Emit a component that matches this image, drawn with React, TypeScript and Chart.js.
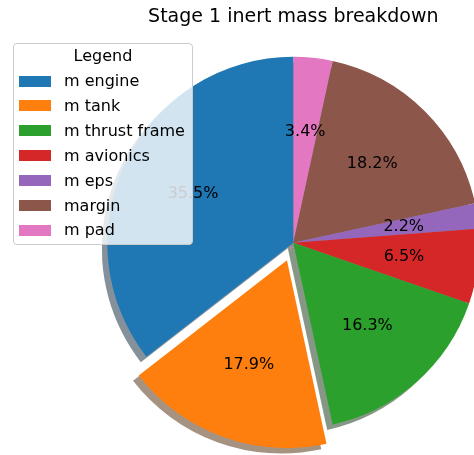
import React, { useEffect, useRef } from "react";
import { Chart, registerables } from "chart.js";

Chart.register(...registerables);

// ---- data ----
const categories = ["m engine", "m tank", "m thrust frame", "m avionics", "m eps", "margin", "m pad"];
const shares = [35.5, 17.9, 16.3, 6.5, 2.2, 18.2, 3.4];
const sliceColors = ["#1f77b4", "#ff7f0e", "#2ca02c", "#d62728", "#9467bd", "#8c564b", "#e377c2"];
const explode = [0, 0.1, 0, 0, 0, 0, 0];
const chartTitle = "Stage 1 inert mass breakdown";
const legendTitle = "Legend";

// ---- layout constants ----
const W = 474;
const H = 455;
const RADIUS = 186;
const PAD_LEFT = 112.6;
const SHADOW = 5.5;
const FONT = '"DejaVu Sans", sans-serif';

// matplotlib draws counter-clockwise from the top; Chart.js draws clockwise,
// so the series is fed in reverse order.
const n = categories.length;
const rev = (a: any[]) => a.slice().reverse();
const total = shares.reduce((s, v) => s + v, 0);

function shadowColor(hex: string) {
  const r = parseInt(hex.slice(1, 3), 16);
  const g = parseInt(hex.slice(3, 5), 16);
  const b = parseInt(hex.slice(5, 7), 16);
  return `rgba(${Math.round(r * 0.3)},${Math.round(g * 0.3)},${Math.round(b * 0.3)},0.5)`;
}

function arcGeom(el: any) {
  const off = (el.options.offset || 0) / 4;
  const circ = el.endAngle - el.startAngle;
  const fix = 1 - Math.sin(Math.min(Math.PI, circ));
  const mid = (el.startAngle + el.endAngle) / 2;
  return {
    cx: el.x + Math.cos(mid) * off,
    cy: el.y + Math.sin(mid) * off,
    r: el.outerRadius + off * fix,
    mid,
    off,
  };
}

const shadowPlugin = {
  id: "pieShadow",
  beforeDatasetsDraw(chart: any) {
    const ctx = chart.ctx;
    const meta = chart.getDatasetMeta(0);
    ctx.save();
    meta.data.forEach((el: any, i: number) => {
      const g = arcGeom(el);
      const cx = g.cx - SHADOW;
      const cy = g.cy + SHADOW;
      ctx.beginPath();
      ctx.moveTo(cx, cy);
      ctx.arc(cx, cy, g.r, el.startAngle, el.endAngle);
      ctx.closePath();
      ctx.fillStyle = shadowColor(sliceColors[n - 1 - i]);
      ctx.fill();
    });
    ctx.restore();
  },
};

const labelPlugin = {
  id: "pctLabels",
  afterDatasetsDraw(chart: any) {
    const ctx = chart.ctx;
    const meta = chart.getDatasetMeta(0);
    ctx.save();
    ctx.font = `16px ${FONT}`;
    ctx.fillStyle = "#000";
    ctx.textAlign = "center";
    ctx.textBaseline = "middle";
    meta.data.forEach((el: any, i: number) => {
      const k = n - 1 - i;
      const g = arcGeom(el);
      const rr = 0.6 * el.outerRadius;
      const x = g.cx + Math.cos(g.mid) * rr;
      const y = g.cy + Math.sin(g.mid) * rr;
      ctx.fillText(`${((shares[k] / total) * 100).toFixed(1)}%`, x, y);
    });
    ctx.restore();
  },
};

export default function App() {
  const ref = useRef<HTMLCanvasElement | null>(null);

  useEffect(() => {
    if (!ref.current) return;
    const chart = new Chart(ref.current, {
      type: "pie",
      data: {
        labels: rev(categories),
        datasets: [
          {
            data: rev(shares),
            backgroundColor: rev(sliceColors),
            borderWidth: 0,
            hoverOffset: 0,
            offset: rev(explode).map((e: number) => e * RADIUS * 4),
            clip: false,
          } as any,
        ],
      },
      options: {
        responsive: false,
        animation: false,
        events: [],
        radius: RADIUS,
        layout: { padding: { left: PAD_LEFT, right: 0, top: 0, bottom: 0 } },
        plugins: {
          legend: { display: false },
          tooltip: { enabled: false },
          title: {
            display: true,
            text: chartTitle,
            color: "#000",
            font: { family: FONT, size: 19, weight: "normal", lineHeight: 1.2 },
            padding: { top: 6, bottom: 1.6 },
          },
        },
      } as any,
      plugins: [shadowPlugin, labelPlugin],
    });
    return () => chart.destroy();
  }, []);

  const rowTop = (i: number) => 81 + 24.9 * i - 44;

  return (
    <div style={{ position: "fixed", left: 0, top: 0, width: W, height: H, background: "#fff" }}>
      <canvas ref={ref} width={W} height={H} style={{ display: "block" }} />
      <div
        style={{
          position: "absolute",
          left: 13,
          top: 43,
          width: 180,
          height: 202,
          boxSizing: "border-box",
          border: "1px solid #cccccc",
          borderRadius: 4,
          background: "rgba(255,255,255,0.8)",
          fontFamily: FONT,
          fontSize: 16,
          color: "#000",
        }}
      >
        <div
          style={{
            position: "absolute",
            left: 0,
            right: 0,
            top: 2.2,
            height: 20,
            lineHeight: "20px",
            textAlign: "center",
            whiteSpace: "nowrap",
          }}
        >
          {legendTitle}
        </div>
        {categories.map((c, i) => (
          <React.Fragment key={c}>
            <div
              style={{
                position: "absolute",
                left: 5.3,
                top: rowTop(i) - 5.5,
                width: 31.5,
                height: 11,
                background: sliceColors[i],
              }}
            />
            <div
              style={{
                position: "absolute",
                left: 50,
                top: rowTop(i) - 10,
                height: 20,
                lineHeight: "20px",
                whiteSpace: "nowrap",
              }}
            >
              {c}
            </div>
          </React.Fragment>
        ))}
      </div>
    </div>
  );
}
